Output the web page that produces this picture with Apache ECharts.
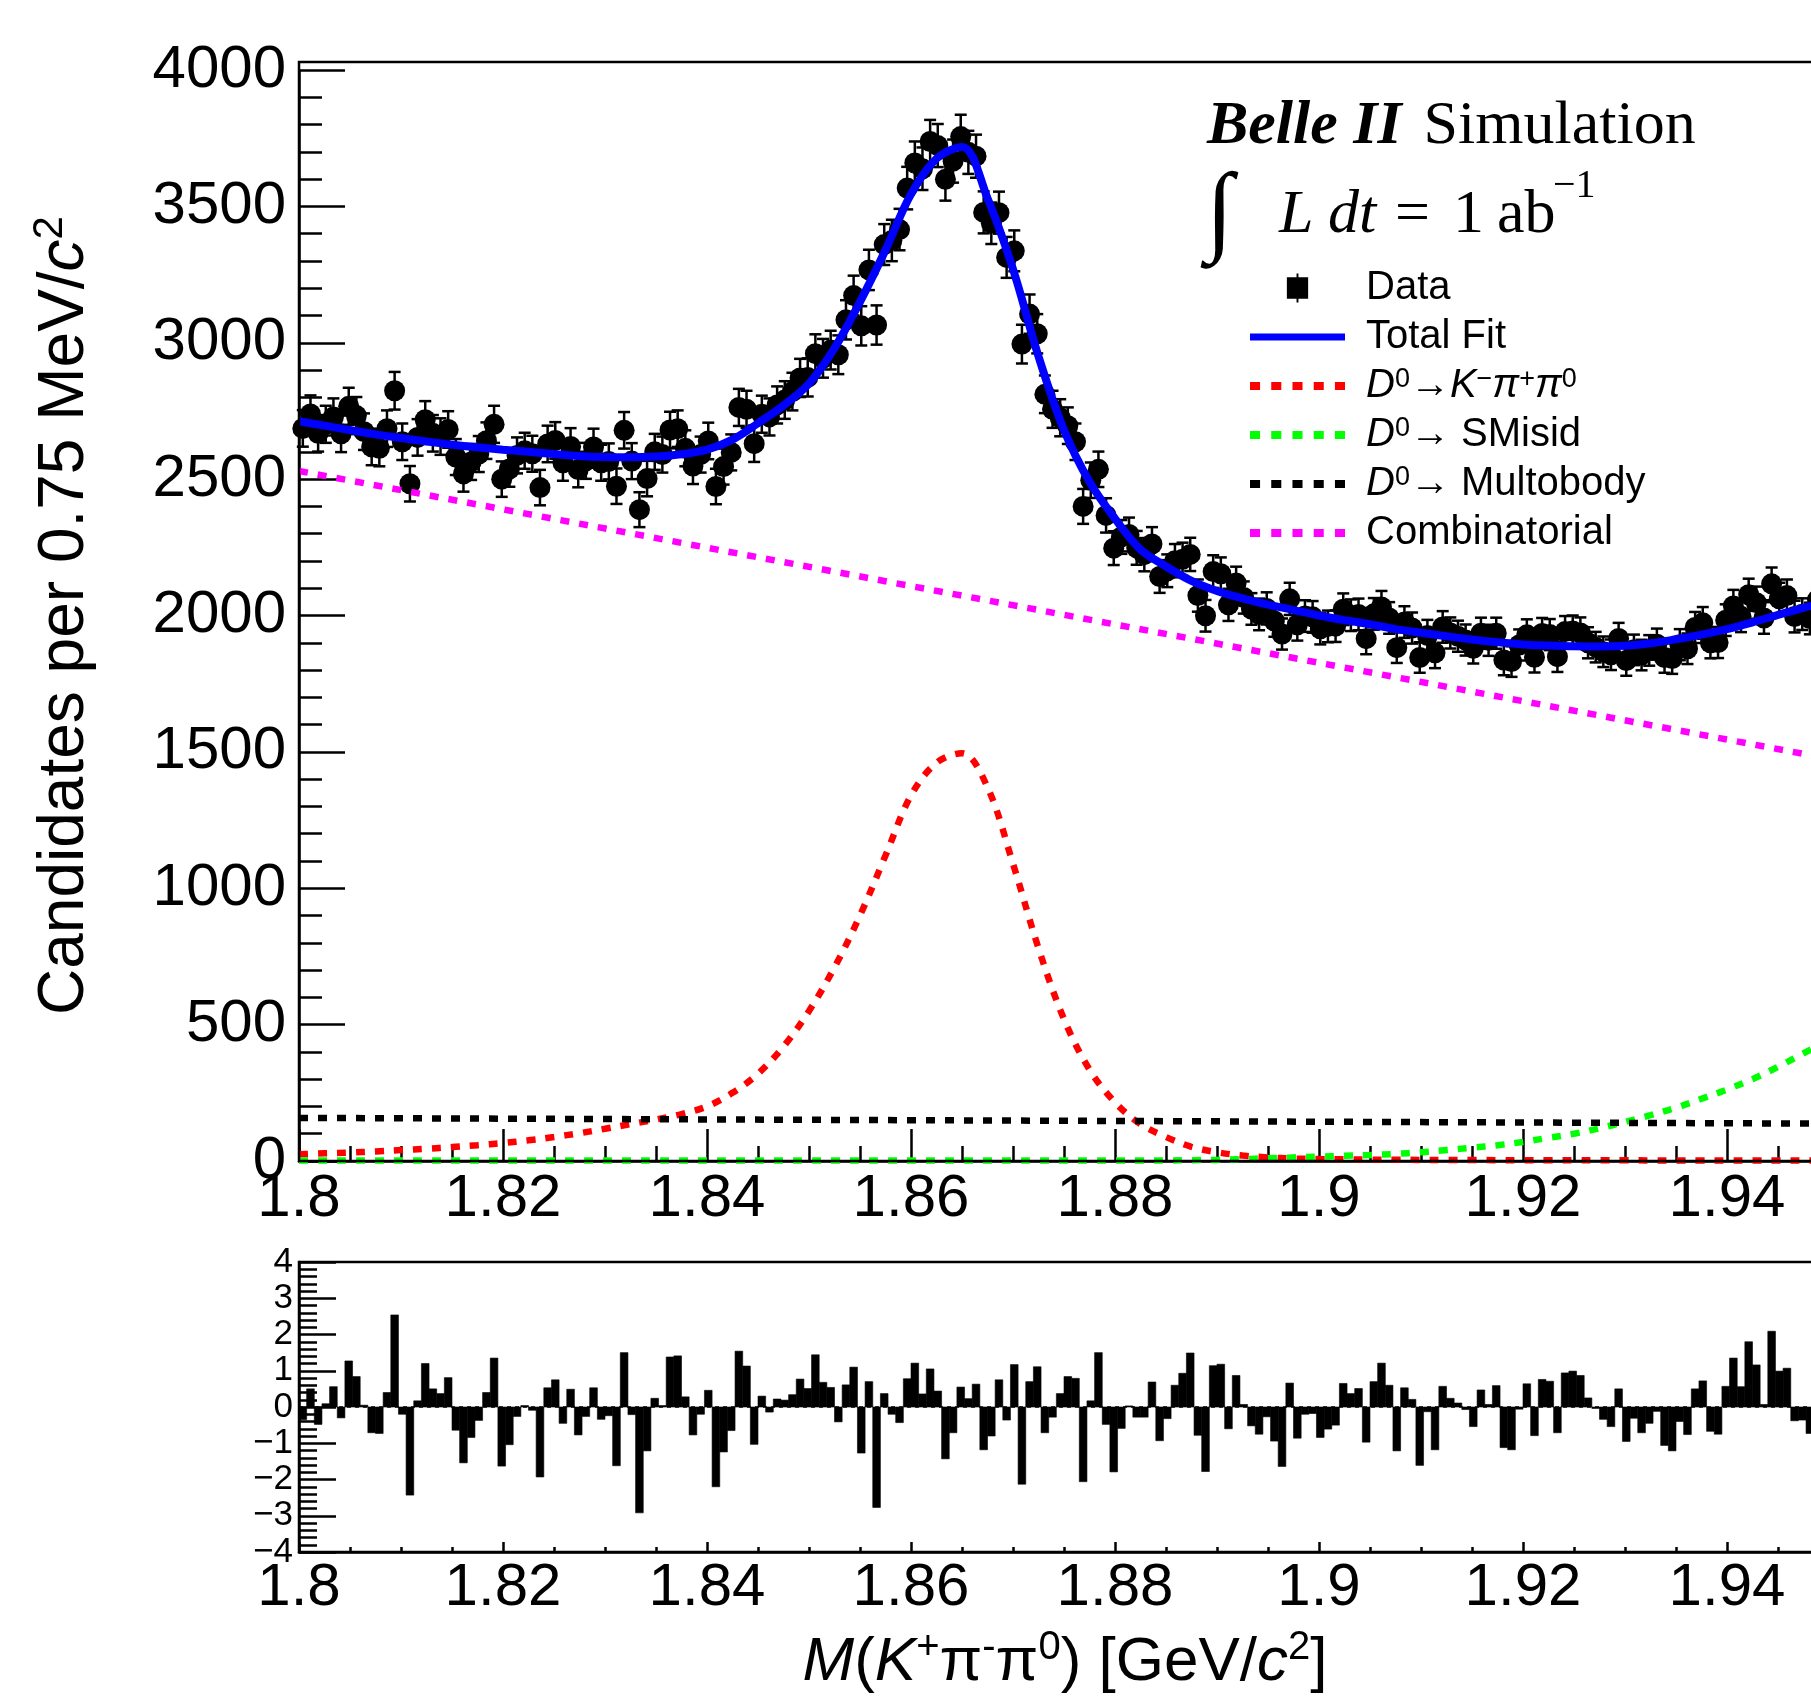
<!DOCTYPE html>
<html lang="en">
<head>
<meta charset="utf-8">
<script src="https://cdn.jsdelivr.net/npm/echarts@6/dist/echarts.min.js"></script>
<style>
    html,body{margin:0;padding:0;background:#fff;}
    #chart{width:1811px;height:1700px;}
</style>
</head>
<body>
<div id="chart"></div>
<script>
    // binning: 0.75 MeV bins from 1.80 GeV
    var binStart = 1.8;
    var binWidth = 0.00075;

    // candidates per bin
    var binCounts = [
        2686, 2739, 2668, 2701, 2728, 2666, 2767, 2733, 2674, 2618,
        2613, 2685, 2824, 2637, 2483, 2653, 2718, 2668, 2656, 2682,
        2581, 2519, 2563, 2592, 2641, 2701, 2500, 2537, 2587, 2604,
        2593, 2469, 2629, 2642, 2560, 2620, 2535, 2567, 2618, 2560,
        2565, 2474, 2679, 2566, 2388, 2502, 2600, 2590, 2680, 2685,
        2613, 2548, 2590, 2640, 2473, 2546, 2598, 2763, 2756, 2630,
        2738, 2728, 2772, 2790, 2821, 2871, 2873, 2960, 2943, 2973,
        2956, 3084, 3173, 3062, 3267, 3065, 3360, 3375, 3415, 3567,
        3659, 3638, 3738, 3723, 3599, 3666, 3756, 3698, 3684, 3478,
        3438, 3477, 3313, 3337, 2995, 3105, 3033, 2811, 2756, 2725,
        2696, 2637, 2400, 2496, 2536, 2367, 2247, 2288, 2297, 2248,
        2223, 2262, 2143, 2164, 2201, 2206, 2224, 2073, 1999, 2161,
        2153, 2039, 2119, 2066, 2024, 2004, 2026, 1980, 1932, 2061,
        1966, 1998, 1995, 1951, 1960, 1961, 2023, 2001, 2004, 1915,
        2006, 2031, 1991, 1882, 1976, 1954, 1846, 1927, 1863, 1958,
        1936, 1924, 1910, 1880, 1935, 1909, 1935, 1837, 1831, 1892,
        1929, 1847, 1934, 1930, 1849, 1941, 1943, 1936, 1900, 1884,
        1867, 1856, 1916, 1835, 1874, 1855, 1872, 1895, 1846, 1842,
        1893, 1878, 1956, 1973, 1900, 1901, 1983, 2035, 1997, 2076,
        2047, 1991, 2116, 2061, 2073, 1996, 2005, 1989, 2058, 2035
    ];
    var binErrors = [
        67, 68, 67, 68, 68, 67, 68, 68, 67, 67,
        66, 67, 69, 67, 65, 67, 68, 67, 67, 67,
        66, 65, 66, 66, 67, 68, 65, 65, 66, 66,
        66, 65, 67, 67, 66, 67, 65, 66, 67, 66,
        66, 65, 67, 66, 64, 65, 66, 66, 67, 67,
        66, 66, 66, 67, 65, 66, 66, 68, 68, 67,
        68, 68, 68, 69, 69, 70, 70, 71, 71, 71,
        71, 72, 73, 72, 74, 72, 75, 76, 76, 78,
        79, 78, 79, 79, 78, 79, 80, 79, 79, 77,
        76, 77, 75, 75, 71, 72, 72, 69, 68, 68,
        67, 67, 64, 65, 65, 63, 62, 62, 62, 62,
        61, 62, 60, 60, 61, 61, 61, 59, 58, 60,
        60, 59, 60, 59, 58, 58, 59, 58, 57, 59,
        58, 58, 58, 57, 58, 58, 58, 58, 58, 57,
        58, 59, 58, 56, 58, 57, 56, 57, 56, 58,
        57, 57, 57, 56, 57, 57, 57, 56, 56, 57,
        57, 56, 57, 57, 56, 57, 57, 57, 57, 56,
        56, 56, 57, 56, 56, 56, 56, 57, 56, 56,
        57, 56, 57, 58, 57, 57, 58, 59, 58, 59,
        59, 58, 60, 59, 59, 58, 58, 58, 59, 59
    ];
    // pull per bin (lower pad)
    var binPulls = [
        -0.35, 0.5, -0.48, 0.09, 0.56, -0.3, 1.27, 0.84, 0.05, -0.71,
        -0.73, 0.4, 2.54, -0.2, -2.43, 0.17, 1.2, 0.5, 0.37, 0.81,
        -0.64, -1.54, -0.84, -0.37, 0.4, 1.35, -1.63, -1.04, -0.26, 0.04,
        -0.09, -1.93, 0.53, 0.75, -0.45, 0.49, -0.77, -0.26, 0.53, -0.34,
        -0.24, -1.62, 1.5, -0.21, -2.92, -1.21, 0.24, 0.04, 1.38, 1.41,
        0.28, -0.77, -0.2, 0.46, -2.2, -1.24, -0.65, 1.54, 1.13, -1.03,
        0.3, -0.14, 0.22, 0.19, 0.34, 0.77, 0.51, 1.44, 0.68, 0.54,
        -0.41, 0.61, 1.1, -1.27, 0.7, -2.77, 0.37, -0.2, -0.43, 0.78,
        1.21, 0.36, 1.05, 0.44, -1.43, -0.71, 0.55, 0.23, 0.63, -1.18,
        -0.8, 0.75, -0.36, 1.17, -2.13, 0.7, 1.11, -0.71, -0.28, 0.37,
        0.84, 0.79, -2.06, 0.17, 1.5, -0.48, -1.79, -0.59, 0.03, -0.28,
        -0.28, 0.69, -0.93, -0.32, 0.6, 0.93, 1.49, -0.78, -1.78, 1.14,
        1.18, -0.6, 0.87, 0.07, -0.52, -0.75, -0.27, -0.94, -1.64, 0.66,
        -0.86, -0.2, -0.18, -0.84, -0.61, -0.5, 0.65, 0.37, 0.51, -0.97,
        0.7, 1.21, 0.6, -1.21, 0.53, 0.21, -1.61, -0.13, -1.18, 0.57,
        0.24, 0.11, -0.07, -0.54, 0.47, 0.07, 0.59, -1.12, -1.18, -0.06,
        0.64, -0.79, 0.76, 0.71, -0.71, 0.94, 0.99, 0.87, 0.25, -0.04,
        -0.34, -0.54, 0.5, -0.95, -0.31, -0.71, -0.45, -0.12, -1.06, -1.21,
        -0.4, -0.76, 0.5, 0.72, -0.67, -0.75, 0.57, 1.35, 0.56, 1.8,
        1.16, 0.07, 2.09, 0.99, 1.07, -0.38, -0.36, -0.73, 0.3, -0.2
    ];

    // fit curves, sampled every 2.5 MeV from 1.80 to 1.95
    var curveStep = 0.0025;
    var fitTotal = [
        2712, 2696, 2680, 2664, 2651, 2638, 2626, 2617, 2608, 2600,
        2592, 2585, 2581, 2580, 2583, 2591, 2608, 2645, 2705, 2770,
        2850, 2980, 3150, 3340, 3545, 3675, 3718, 3530, 3270, 2950,
        2680, 2490, 2355, 2242, 2180, 2127, 2090, 2063, 2040, 2020,
        2000, 1983, 1968, 1950, 1937, 1924, 1912, 1902, 1894, 1890,
        1887, 1886, 1889, 1898, 1913, 1930, 1950, 1975, 2002, 2028, 2050
    ];
    var fitSignal = [
        25, 28, 31, 35, 40, 45, 51, 58, 66, 76,
        88, 102, 118, 135, 152, 172, 200, 250, 320, 420,
        550, 710, 900, 1120, 1340, 1460, 1495, 1370, 1090, 780,
        520, 335, 215, 135, 88, 52, 32, 20, 13, 9,
        7, 6, 5, 5, 4, 4, 4, 3, 3, 3,
        3, 3, 3, 2, 2, 2, 2, 2, 2, 2, 2
    ];
    var fitMisid = [
        2, 2, 2, 2, 2, 2, 2, 2, 2, 2,
        2, 2, 2, 2, 2, 2, 2, 2, 2, 2,
        2, 2, 2, 2, 2, 2, 2, 2, 2, 2,
        2, 2, 2, 2, 2, 3, 4, 7, 10, 13,
        16, 19, 22, 26, 32, 40, 49, 58, 70, 85,
        100, 120, 143, 168, 195, 228, 262, 300, 345, 395, 445
    ];
    // straight-line components: value at 1.80 and at 1.95
    var lineEnds = [1.8, 1.95];
    var fitMultibody = [158, 137];
    var fitCombinatorial = [2530, 1475];

    var yTicksMain = [0, 4000, 500];
    var yTicksPull = [-4, 4, 1];
    var pullLabels = [-4, -3, -2, -1, 0, 1, 2, 3, 4];

    var binCenters = binCounts.map(function (v, i) { return binStart + binWidth * (i + 0.5); });
    var curveMass = fitTotal.map(function (v, i) { return binStart + curveStep * i; });
    var pair = function (xs, ys) { return ys.map(function (v, i) { return [xs[i], v]; }); };

    var FONT = 'Liberation Sans';
    var SERIF = 'Liberation Serif';
    var axisBlack = {color: '#000', width: 2.5};

    var xLabel = function (v) { return String(Math.round(v * 100) / 100); };

    var legendNames = {
        'Data': '{n|Data}',
        'Total Fit': '{n|Total Fit}',
        'Kpipi': '{i|D}{s|0}{n|→}{i|K}{s|−}{i|π}{s|+}{i|π}{s|0}',
        'SMisid': '{i|D}{s|0}{n|→ SMisid}',
        'Multobody': '{i|D}{s|0}{n|→ Multobody}',
        'Combinatorial': '{n|Combinatorial}'
    };
    // legend samples drawn like the ROOT ones
    var iconSolid = 'path://M0,0h95v7h-95z';
    var iconDots = 'path://M0,0h9v7h-9zM19,0h9v7h-9zM38,0h9v7h-9zM57,0h9v7h-9zM76,0h9v7h-9z';

    var dashed = function (color) {
        return {color: color, width: 6.5, type: [9, 10], cap: 'butt'};
    };

    var myChart = echarts.init(document.getElementById('chart'), null, {renderer: 'canvas'});
    var option = {
        backgroundColor: '#fff',
        animation: false,
        grid: [
            {left: 299, right: -120, top: 70, bottom: 539, containLabel: false, outerBoundsMode: 'none'},
            {left: 299, right: -120, top: 1262, bottom: 148, containLabel: false, outerBoundsMode: 'none',
                show: true, borderColor: '#000', borderWidth: 2.5, backgroundColor: 'transparent'}
        ],
        xAxis: [
            {
                type: 'value', gridIndex: 0, min: 1.8, max: 1.96, interval: 0.02,
                axisLine: {show: true, onZero: false, lineStyle: axisBlack},
                axisTick: {show: true, inside: true, length: 32, lineStyle: axisBlack},
                minorTick: {show: true, splitNumber: 4, length: 15, lineStyle: axisBlack},
                splitLine: {show: false},
                axisLabel: {margin: 8, fontFamily: FONT, fontSize: 60, color: '#000', formatter: xLabel}
            },
            {
                type: 'value', gridIndex: 1, min: 1.8, max: 1.96, interval: 0.02,
                axisLine: {show: true, onZero: false, lineStyle: axisBlack},
                axisTick: {show: true, inside: true, length: 10, lineStyle: axisBlack},
                minorTick: {show: true, splitNumber: 4, length: 5, lineStyle: axisBlack},
                splitLine: {show: false},
                axisLabel: {margin: 6, fontFamily: FONT, fontSize: 60, color: '#000', formatter: xLabel}
            }
        ],
        yAxis: [
            {
                type: 'value', gridIndex: 0, min: yTicksMain[0], max: yTicksMain[1], interval: yTicksMain[2],
                axisLine: {show: true, onZero: false, lineStyle: axisBlack},
                axisTick: {show: true, inside: true, length: 46, lineStyle: axisBlack},
                minorTick: {show: true, splitNumber: 5, length: 23, lineStyle: axisBlack},
                splitLine: {show: false},
                axisLabel: {
                    margin: 13, fontFamily: FONT, fontSize: 60, color: '#000',
                    showMinLabel: true, showMaxLabel: true,
                    formatter: function (v) { return String(v); }
                },
                name: 'Candidates per 0.75 MeV/{i|c}{sup|2}',
                nameLocation: 'middle',
                nameGap: 198,
                nameTextStyle: {
                    fontFamily: FONT, fontSize: 64, color: '#000', lineHeight: 72,
                    rich: {
                        i: {fontFamily: FONT, fontStyle: 'italic', fontSize: 64, lineHeight: 72, color: '#000'},
                        sup: {fontFamily: FONT, fontSize: 42, lineHeight: 30, verticalAlign: 'top', color: '#000'}
                    }
                }
            },
            {
                type: 'value', gridIndex: 1, min: yTicksPull[0], max: yTicksPull[1], interval: yTicksPull[2],
                axisLine: {show: true, onZero: false, lineStyle: axisBlack},
                axisTick: {show: true, inside: true, length: 37, lineStyle: axisBlack},
                minorTick: {show: true, splitNumber: 5, length: 18, lineStyle: axisBlack},
                splitLine: {show: false},
                axisLabel: {
                    margin: 6, fontFamily: FONT, fontSize: 35, lineHeight: 30, color: '#000',
                    customValues: pullLabels,
                    showMinLabel: true, showMaxLabel: true, hideOverlap: false,
                    formatter: function (v) { return v < 0 ? '\u2212' + (-v) : String(v); }
                }
            }
        ],
        legend: {
            orient: 'vertical',
            left: 1245,
            top: 263,
            itemWidth: 95,
            itemHeight: 29,
            itemGap: 9,
            selectedMode: false,
            data: [
                {name: 'Data', icon: 'path://M0,4h22v22h-22zM10,0h2v30h-2z'},
                {name: 'Total Fit', icon: iconSolid},
                {name: 'Kpipi', icon: iconDots},
                {name: 'SMisid', icon: iconDots},
                {name: 'Multobody', icon: iconDots},
                {name: 'Combinatorial', icon: iconDots}
            ],
            formatter: function (name) { return legendNames[name]; },
            textStyle: {
                fontFamily: FONT, fontSize: 40, color: '#000', lineHeight: 40, padding: [0, 0, 0, 16],
                rich: {
                    n: {fontFamily: FONT, fontSize: 40, lineHeight: 40, color: '#000'},
                    i: {fontFamily: FONT, fontStyle: 'italic', fontSize: 40, lineHeight: 40, color: '#000'},
                    s: {fontFamily: FONT, fontSize: 27, lineHeight: 10, verticalAlign: 'top', color: '#000'}
                }
            }
        },
        graphic: [
            {
                type: 'rect', z: 100, silent: true,
                shape: {x: 299, y: 62, width: 1700, height: 1099},
                style: {fill: 'none', stroke: '#000', lineWidth: 2.5}
            },
            {
                type: 'text', x: 1207, y: 127, z: 100,
                style: {
                    text: '{b|Belle II}{r|Simulation}',
                    align: 'left', verticalAlign: 'middle',
                    rich: {
                        b: {fontFamily: SERIF, fontStyle: 'italic', fontWeight: 'bold', fontSize: 62, fill: '#000'},
                        r: {fontFamily: SERIF, fontSize: 62, fill: '#000', padding: [0, 0, 0, 22]}
                    }
                }
            },
            {
                type: 'text', x: 1206, y: 216, z: 100,
                style: {
                    text: '{int|∫}{it|L}{it2|dt}{rm|=}{one|1}{ab|ab}{sup|−1}',
                    align: 'left', verticalAlign: 'middle',
                    rich: {
                        int: {fontFamily: SERIF, fontStyle: 'italic', fontSize: 100, lineHeight: 100, width: 73, fill: '#000'},
                        it: {fontFamily: SERIF, fontStyle: 'italic', fontSize: 62, lineHeight: 100, width: 49, fill: '#000'},
                        it2: {fontFamily: SERIF, fontStyle: 'italic', fontSize: 62, lineHeight: 100, width: 67, fill: '#000'},
                        rm: {fontFamily: SERIF, fontSize: 62, lineHeight: 100, width: 58, fill: '#000'},
                        one: {fontFamily: SERIF, fontSize: 62, lineHeight: 100, width: 44, fill: '#000'},
                        ab: {fontFamily: SERIF, fontSize: 62, lineHeight: 100, width: 56, fill: '#000'},
                        sup: {fontFamily: SERIF, fontSize: 40, lineHeight: 64, verticalAlign: 'top', fill: '#000'}
                    }
                }
            },
            {
                type: 'text', x: 1065, y: 1663, z: 100,
                style: {
                    text: '{i|M}{n|(}{i|K}{s|+}{n|π}{s|-}{n|π}{s|0}{n|) [GeV/}{i|c}{s|2}{n|]}',
                    align: 'center', verticalAlign: 'middle',
                    rich: {
                        n: {fontFamily: FONT, fontSize: 62, lineHeight: 70, fill: '#000'},
                        i: {fontFamily: FONT, fontStyle: 'italic', fontSize: 62, lineHeight: 70, fill: '#000'},
                        s: {fontFamily: FONT, fontSize: 40, lineHeight: 30, verticalAlign: 'top', fill: '#000'}
                    }
                }
            }
        ],
        series: [
            {
                name: 'DataErr',
                type: 'custom',
                xAxisIndex: 0, yAxisIndex: 0,
                z: 2,
                data: binCounts.map(function (v, i) { return [binCenters[i], v - binErrors[i], v + binErrors[i]]; }),
                encode: {x: 0, y: [1, 2]},
                renderItem: function (params, api) {
                    var x = api.value(0);
                    var lo = api.coord([x, api.value(1)]);
                    var hi = api.coord([x, api.value(2)]);
                    var cap = 6;
                    var st = {stroke: '#000', lineWidth: 2.5};
                    return {
                        type: 'group',
                        children: [
                            {type: 'line', shape: {x1: lo[0], y1: lo[1], x2: hi[0], y2: hi[1]}, style: st},
                            {type: 'line', shape: {x1: hi[0] - cap, y1: hi[1], x2: hi[0] + cap, y2: hi[1]}, style: st},
                            {type: 'line', shape: {x1: lo[0] - cap, y1: lo[1], x2: lo[0] + cap, y2: lo[1]}, style: st}
                        ]
                    };
                }
            },
            {
                name: 'Data',
                type: 'scatter',
                xAxisIndex: 0, yAxisIndex: 0,
                z: 3,
                symbol: 'circle',
                symbolSize: 21,
                itemStyle: {color: '#000', opacity: 1},
                data: pair(binCenters, binCounts)
            },
            {
                name: 'Total Fit',
                type: 'line',
                xAxisIndex: 0, yAxisIndex: 0,
                z: 5,
                symbol: 'none', showSymbol: false,
                smooth: 0.35,
                lineStyle: {color: '#0000ff', width: 8},
                itemStyle: {color: '#0000ff'},
                data: pair(curveMass, fitTotal)
            },
            {
                name: 'Kpipi',
                type: 'line',
                xAxisIndex: 0, yAxisIndex: 0,
                z: 4,
                symbol: 'none', showSymbol: false,
                smooth: 0.35,
                lineStyle: dashed('#ff0000'),
                itemStyle: {color: '#ff0000'},
                data: pair(curveMass, fitSignal)
            },
            {
                name: 'SMisid',
                type: 'line',
                xAxisIndex: 0, yAxisIndex: 0,
                z: 4,
                symbol: 'none', showSymbol: false,
                smooth: 0.35,
                lineStyle: dashed('#00ff00'),
                itemStyle: {color: '#00ff00'},
                data: pair(curveMass, fitMisid)
            },
            {
                name: 'Multobody',
                type: 'line',
                xAxisIndex: 0, yAxisIndex: 0,
                z: 4,
                symbol: 'none', showSymbol: false,
                lineStyle: dashed('#000000'),
                itemStyle: {color: '#000000'},
                data: pair(lineEnds, fitMultibody)
            },
            {
                name: 'Combinatorial',
                type: 'line',
                xAxisIndex: 0, yAxisIndex: 0,
                z: 4,
                symbol: 'none', showSymbol: false,
                lineStyle: dashed('#ff00ff'),
                itemStyle: {color: '#ff00ff'},
                data: pair(lineEnds, fitCombinatorial)
            },
            {
                name: 'Pull',
                type: 'custom',
                xAxisIndex: 1, yAxisIndex: 1,
                data: pair(binCenters, binPulls),
                encode: {x: 0, y: 1},
                renderItem: function (params, api) {
                    var x = api.value(0);
                    var a = api.coord([x - binWidth / 2, api.value(1)]);
                    var b = api.coord([x + binWidth / 2, 0]);
                    return {
                        type: 'rect',
                        shape: {x: a[0], y: Math.min(a[1], b[1]), width: b[0] - a[0], height: Math.abs(b[1] - a[1])},
                        style: {fill: '#000', stroke: '#000', lineWidth: 0.6}
                    };
                },
                markLine: {
                    silent: true, symbol: 'none', label: {show: false},
                    lineStyle: {color: '#000', width: 1.5, type: [4, 4]},
                    data: [{yAxis: 0}]
                }
            }
        ]
    };
    myChart.setOption(option);
</script>
</body>
</html>
